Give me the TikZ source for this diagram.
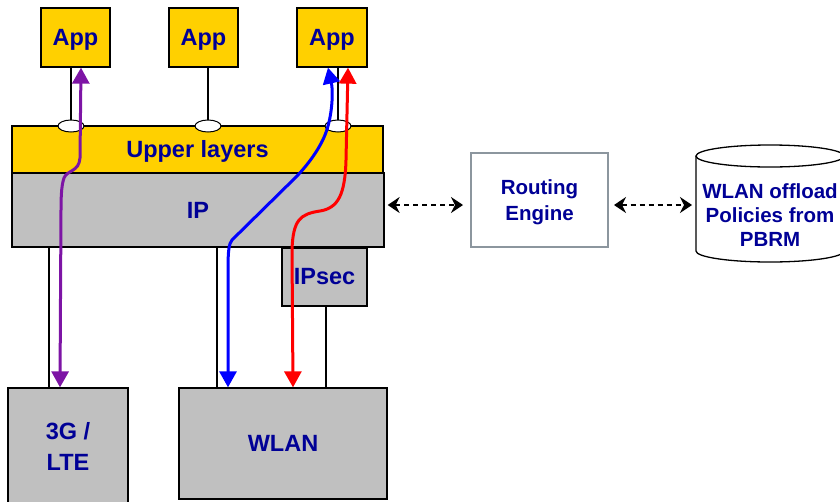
\documentclass[tikz,border=0pt]{standalone}
\usepackage{fontspec}
\setmainfont{Liberation Sans}
\usetikzlibrary{arrows.meta,shapes.geometric}
\definecolor{appyellow}{RGB}{255,208,0}
\definecolor{layergray}{RGB}{192,192,192}
\definecolor{navytext}{RGB}{0,0,150}
\definecolor{routeedge}{RGB}{140,150,158}
\definecolor{pathpurple}{RGB}{125,20,165}
% lower a label without changing the box it reports
\newcommand{\lowertext}[2]{\raisebox{-#1}[\height][\depth]{#2}}

\begin{document}
\begin{tikzpicture}[x=1pt,y=-1pt,
  box/.style={draw=black, line width=1.3pt, inner sep=0pt,
    font=\fontsize{23.5}{31}\selectfont\bfseries, text=navytext, align=center},
  appbox/.style={box, fill=appyellow, minimum width=69pt, minimum height=59pt},
  graybox/.style={box, fill=layergray},
  sap/.style={ellipse, draw=black, line width=1pt, fill=white, inner sep=0pt,
    minimum width=26pt, minimum height=12pt},
  link/.style={draw=black, line width=1.3pt},
  flow/.style={line width=3pt,
    {Triangle[width=17pt,length=16pt]}-{Triangle[width=17pt,length=16pt]}},
  dasharrow/.style={line width=1.5pt, dash pattern=on 5pt off 4pt,
    {Stealth[width=16pt,length=12pt,inset=4pt]}-{Stealth[width=16pt,length=12pt,inset=4pt]}},
  sidetext/.style={font=\fontsize{20.5}{24}\selectfont\bfseries, text=navytext, align=center}
]
\useasboundingbox (0,0) rectangle (840,501);
\clip (0,0) rectangle (840,501);

% applications
\node[appbox] (app1) at (75.5,37.5) {\lowertext{2.5pt}{App}};
\node[appbox] (app2) at (203.5,37.5) {\lowertext{2.5pt}{App}};
\node[appbox, minimum width=70pt] (app3) at (332,37.5) {\lowertext{2.5pt}{App}};

% protocol stack
\node[box, fill=appyellow, minimum width=371pt, minimum height=47pt] (upper) at (197.5,149.5) {\lowertext{1.5pt}{Upper layers}};
\node[graybox, minimum width=372pt, minimum height=74pt] (ip) at (198,210) {IP};
\node[graybox, minimum width=85pt, minimum height=58pt] (ipsec) at (324.5,277) {IPsec};
\node[graybox, minimum width=120pt, minimum height=117pt] (lte) at (68,446.5) {3G /\\LTE};
\node[graybox, minimum width=208pt, minimum height=111pt] (wlan) at (283,443.5) {WLAN};

% service access points on the upper layers
\node[sap] (e1) at (71,126) {};
\node[sap] (e2) at (208,126) {};
\node[sap] (e3) at (338,126) {};
\draw[link] (e1.north |- app1.south) -- (e1.north);
\draw[link] (e2.north |- app2.south) -- (e2.north);
\draw[link] (e3.north |- app3.south) -- (e3.north);

% interface links below IP
\draw[link] (ip.south -| 49,0) -- (lte.north -| 49,0);
\draw[link] (ip.south -| 217,0) -- (wlan.north -| 217,0);
\draw[link] (ip.south -| 326,0) -- (ipsec.north -| 326,0);
\draw[link] (ipsec.south -| 326,0) -- (wlan.north -| 326,0);

% routing engine and policy store
\node[box, draw=routeedge, line width=2pt, fill=white, minimum width=137pt, minimum height=94pt,
  font=\fontsize{20.5}{27.5}\selectfont\bfseries] (re) at (539.5,200)
  {\lowertext{2pt}{\shortstack{Routing\\[3.5pt]Engine}}};
\draw[line width=1.3pt, fill=white] (696,156) -- (696,251)
  arc[start angle=180, end angle=360, x radius=74pt, y radius=11pt] -- (844,156);
\draw[line width=1.3pt] (770,156) ellipse[x radius=74pt, y radius=11pt];
\node[sidetext] (pbrm) at (770,215) {WLAN offload\\Policies from\\PBRM};
\coordinate (pbrmw) at (696,205);

\draw[dasharrow] ([xshift=3pt,yshift=5pt]ip.east) -- ([xshift=-7pt,yshift=-5pt]re.west);
\draw[dasharrow] ([xshift=5pt,yshift=-5pt]re.east) -- ([xshift=-4pt]pbrmw);

% traffic flows
\draw[flow, pathpurple] (app1.south -| 81,0) -- (80,158)
  .. controls (79,172) and (67,170) .. (64,178)
  .. controls (62,184) and (61,192) .. (61,210) -- (lte.north -| 60,0);
\draw[flow, blue] (app3.south -| 328,0) .. controls (333,90) and (333,115) .. (325,135)
  .. controls (318,152) and (305,168) .. (295,178) -- (232,240)
  .. controls (229,244) and (228,250) .. (228,270) -- (wlan.north -| 228,0);
\draw[flow, red] (app3.south -| 348,0) -- (346,160)
  .. controls (345,195) and (338,208) .. (320,211)
  .. controls (300,214) and (293,220) .. (292,250) -- (wlan.north -| 293,0);
\end{tikzpicture}
\end{document}
